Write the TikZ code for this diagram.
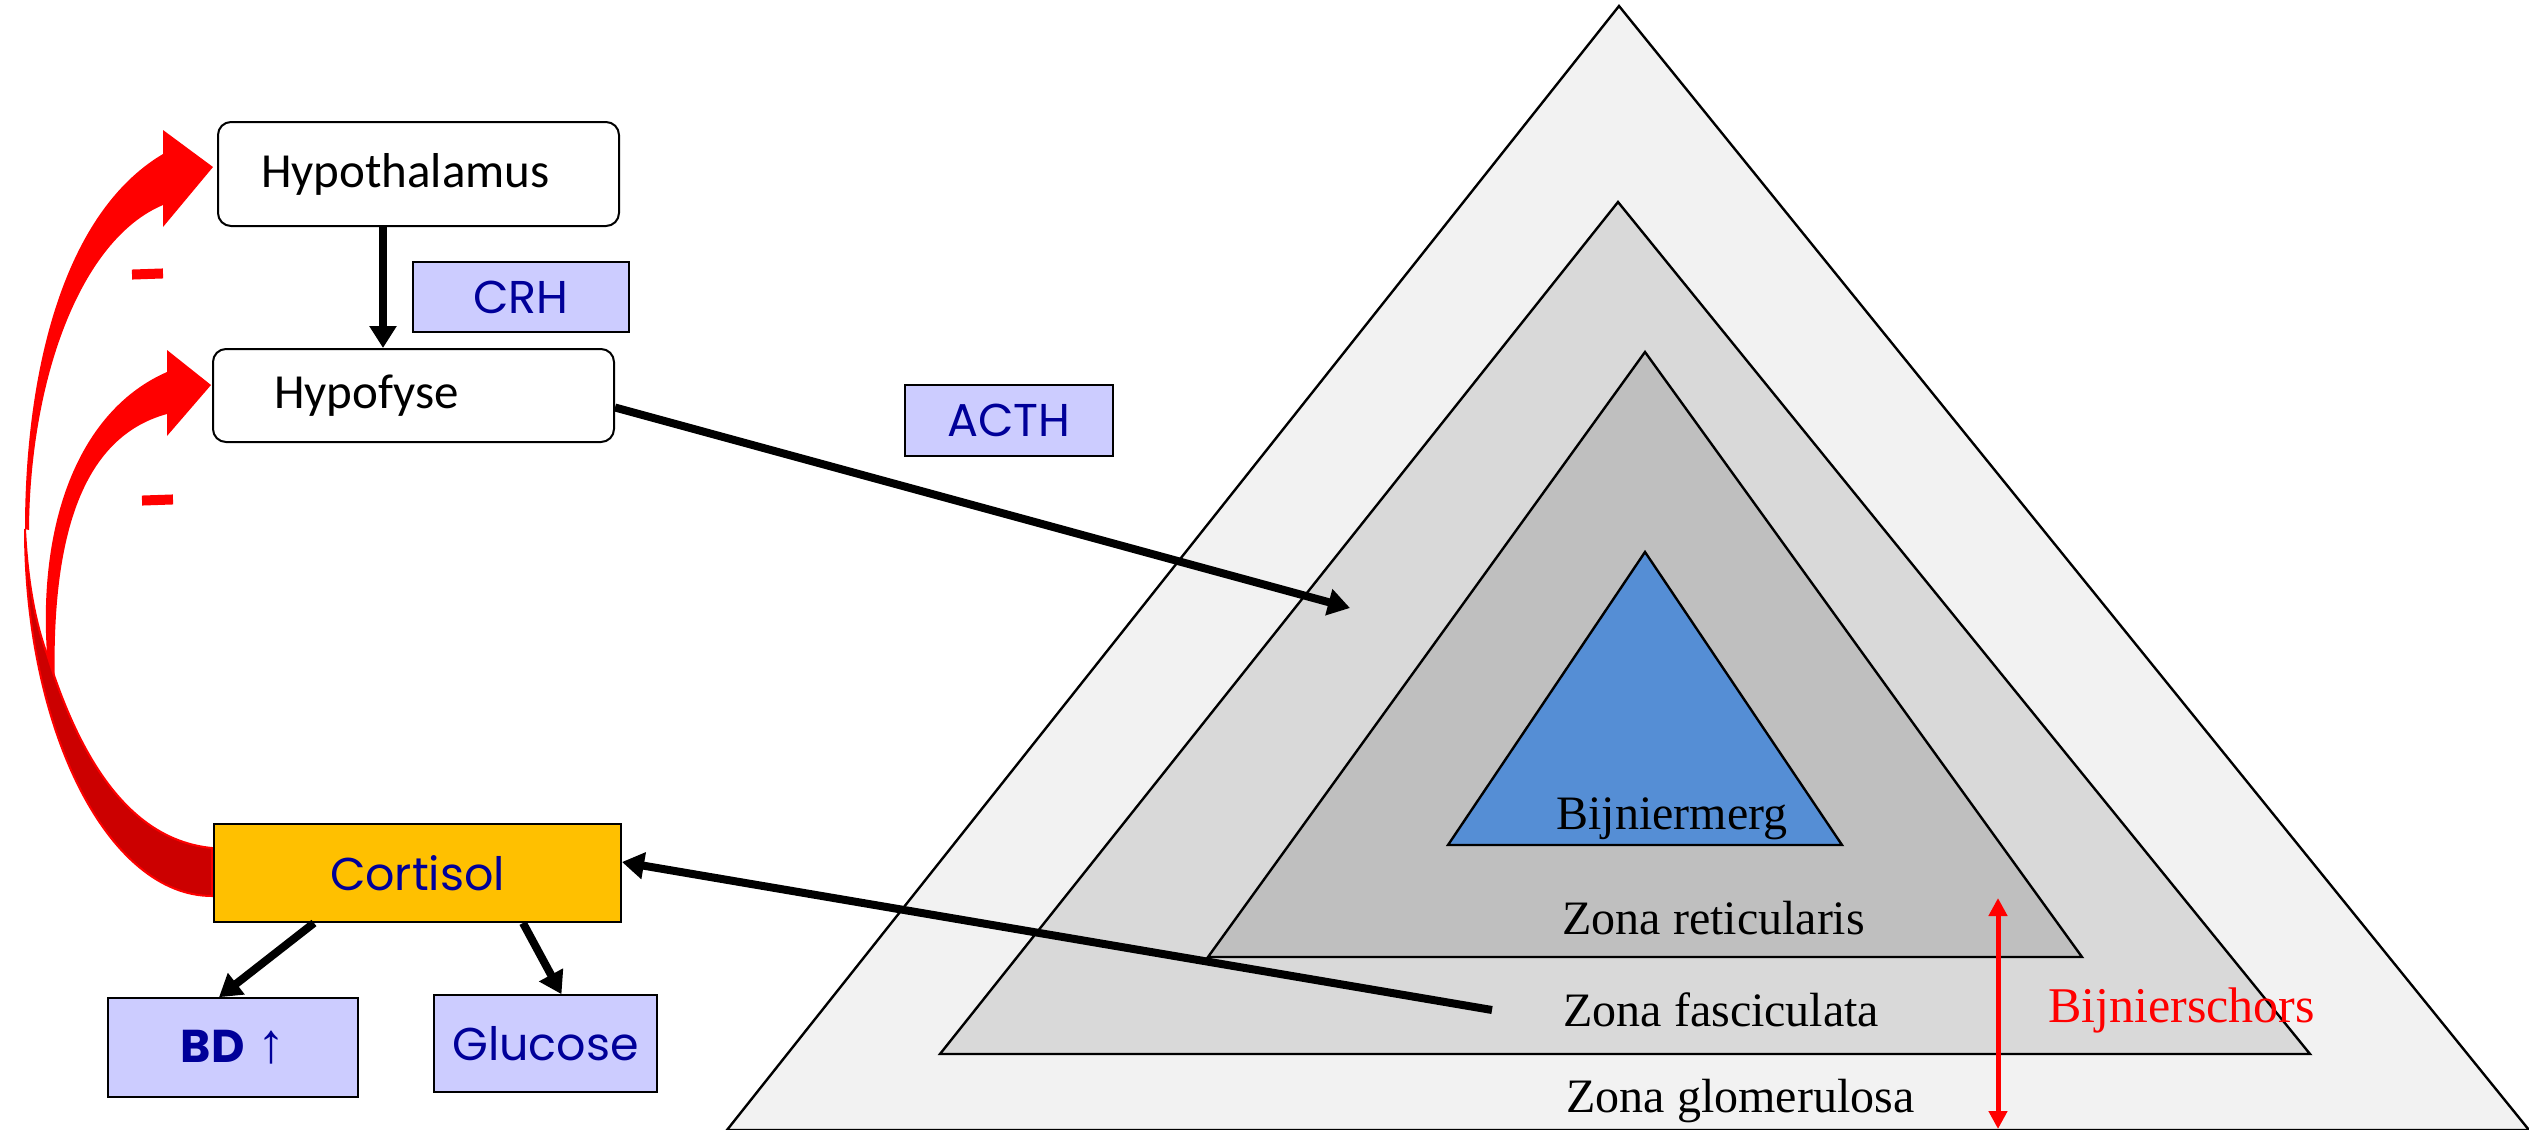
\documentclass[tikz,border=0pt]{standalone}
\usepackage{fontspec}
\usetikzlibrary{arrows.meta}
\setmainfont{Liberation Serif}
\newfontfamily\boxfont{Carlito}
\newfontfamily\hormfont{Poppins}
\newfontfamily\symfont{Liberation Sans}
\definecolor{hormblue}{RGB}{0,0,153}
\definecolor{hormfill}{RGB}{204,204,255}
\definecolor{cortfill}{RGB}{255,192,0}
\definecolor{darkred}{RGB}{204,0,0}
\definecolor{zoneA}{RGB}{242,242,242}
\definecolor{zoneB}{RGB}{217,217,217}
\definecolor{zoneC}{RGB}{191,191,191}
\definecolor{medulla}{RGB}{85,142,213}
\tikzset{
  OrganStyle/.style = { draw, rounded corners=6.5pt, line width=1pt,
                        fill=white, anchor=west, align=left, inner ysep=0pt,
                        font=\boxfont\fontsize{24.5}{29}\selectfont },
  HormoneStyle/.style = { draw, line width=0.8pt, fill=hormfill,
                          text=hormblue, inner sep=0pt,
                          font=\hormfont\fontsize{23}{28}\selectfont },
  ZoneStyle/.style = { draw, line width=1.2pt },
  ZoneLabel/.style = { anchor=base west, inner sep=0pt,
                       font=\fontsize{24}{29}\selectfont },
  EdgeStyle/.style = { line width=4pt, -{Triangle[length=11pt,width=13pt]} },
  FeedbackStyle/.style = { fill=red, draw=none },
  MinusStyle/.style = { fill=red, minimum width=15.5pt, minimum height=5pt,
                        inner sep=0pt, rotate=2 }
}
\begin{document}
\begin{tikzpicture}[x=0.5pt,y=-0.5pt]
  \useasboundingbox (0,0) rectangle (2529,1130);
  % bijnier
  \draw[ZoneStyle, fill=zoneA] (1619,6) -- (2529,1130) -- (727,1130) -- cycle;
  \draw[ZoneStyle, fill=zoneB] (1618,202) -- (2310,1054) -- (940,1054) -- cycle;
  \draw[ZoneStyle, fill=zoneC] (1645,352) -- (2082,957) -- (1208,957) -- cycle;
  \draw[ZoneStyle, fill=medulla] (1645,552) -- (1842,845) -- (1448,845) -- cycle;
  \node[ZoneLabel] (merg) at (1556,829) {Bijniermerg};
  \node[ZoneLabel] (reti) at (1562,934) {Zona reticularis};
  \node[ZoneLabel] (fasc) at (1563,1026) {Zona fasciculata};
  \node[ZoneLabel] (glom) at (1566,1112) {Zona glomerulosa};
  \node[ZoneLabel, text=red, font=\fontsize{25}{30}\selectfont] (schors) at (2048,1022) {Bijnierschors};
  \coordinate (ctop) at (1998,898);
  \coordinate (cbot) at (1998,1129);
  \draw[red, line width=2.5pt, {Triangle[length=9pt,width=9pt]}-{Triangle[length=9pt,width=9pt]}] (ctop) -- (cbot);
  % negatieve terugkoppeling
  \fill[FeedbackStyle] (47,654) .. controls (38,520) and (80,410) .. (167,372)
    -- (167,350) -- (211,385) -- (167,436) -- (167,414)
    .. controls (90,435) and (50,520) .. (55,690) -- cycle;
  \fill[FeedbackStyle] (25,529) .. controls (25,380) and (60,215) .. (163,154)
    -- (163,130) -- (213,167) -- (163,227) -- (163,205)
    .. controls (80,240) and (30,380) .. (29,530) -- cycle;
  \draw[red, line width=1pt, fill=darkred] (212,896) .. controls (109,896) and (25,732) .. (25,529)
    .. controls (28,590) and (38,630) .. (47,654)
    .. controls (80,760) and (130,840) .. (212,848) -- cycle;
  \node[MinusStyle] (m1) at (147.5,274) {};
  \node[MinusStyle] (m2) at (157.5,500) {};
  % hormoon-as
  \node[OrganStyle, text width=157.5pt, inner xsep=21.5pt, minimum height=52pt] (hyp) at (217,174) {Hypothalamus};
  \node[OrganStyle, text width=139.5pt, inner xsep=30.5pt, minimum height=46.5pt] (pit) at (212,395.5) {Hypofyse};
  \node[HormoneStyle, minimum width=108pt, minimum height=35pt] (crh) at (521,297) {CRH};
  \node[HormoneStyle, minimum width=104pt, minimum height=35.5pt] (acth) at (1009,420.5) {ACTH};
  \node[HormoneStyle, fill=cortfill, line width=1pt, minimum width=203.5pt, minimum height=49pt] (cort) at (417.5,873) {Cortisol};
  \node[HormoneStyle, minimum width=125pt, minimum height=49.5pt] (bd) at (233,1047.5) {\textbf{BD} {\symfont\fontsize{28}{28}\selectfont ↑}};
  \node[HormoneStyle, minimum width=111.5pt, minimum height=48.5pt] (glu) at (545.5,1043.5) {Glucose};
  \coordinate (acthend) at (1350,608);
  \coordinate (fascstart) at (1492,1010);
  \draw[EdgeStyle] ([xshift=-17.75pt]hyp.south) -- ([xshift=-15.25pt]pit.north);
  \draw[EdgeStyle] ([yshift=-6pt]pit.east) -- (acthend);
  \draw[EdgeStyle] (fascstart) -- ([yshift=5.5pt]cort.east);
  \draw[EdgeStyle] ([xshift=-51.75pt]cort.south) -- ([xshift=-7pt]bd.north);
  \draw[EdgeStyle] ([xshift=52.75pt]cort.south) -- ([xshift=8pt]glu.north);
\end{tikzpicture}
\end{document}
